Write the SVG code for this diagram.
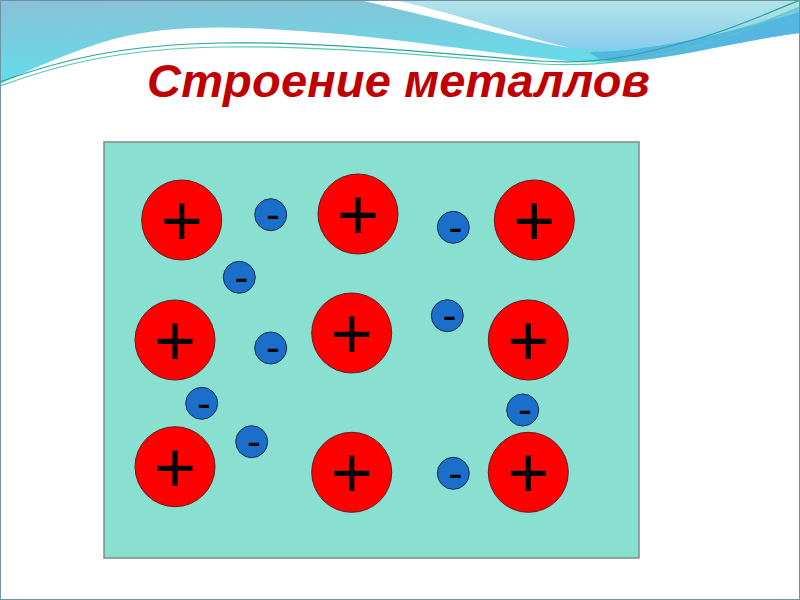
<svg xmlns="http://www.w3.org/2000/svg" width="800" height="600" viewBox="0 0 800 600">
  <defs>
    <linearGradient id="bandGrad" x1="0" y1="0" x2="0.3" y2="1">
      <stop offset="0" stop-color="#8ac0d6"/>
      <stop offset="1" stop-color="#60dfeb"/>
    </linearGradient>
    <linearGradient id="lightGrad" x1="0" y1="0" x2="0" y2="1">
      <stop offset="0" stop-color="#b3e5ea"/>
      <stop offset="1" stop-color="#8acbec"/>
    </linearGradient>
    <style>
      .ion circle { fill: #ff0000; stroke: #6a1a1a; stroke-width: 1; }
      .ion text { font-family: "Liberation Sans", Arial, sans-serif; font-size: 72px; fill: #000; text-anchor: middle; }
      .el circle { fill: #1a6fcb; stroke: #1a2a4a; stroke-width: 1; }
      .el text { font-family: "Liberation Sans", Arial, sans-serif; font-size: 42px; fill: #000; text-anchor: middle; }
      .wave { fill: none; stroke-width: 1.2; }
    </style>
  </defs>

  <!-- background -->
  <rect x="0" y="0" width="800" height="600" fill="#ffffff"/>
  <path d="M0,0 H800 V33 C730,42 680,58 620,62 C590,64 570,61 540,58 C450,48 380,36 300,31 C230,26 160,24 100,43 C60,56 30,70 0,84 Z" fill="url(#bandGrad)"/>
  <path d="M590,52 C650,52 720,35 800,12 V33 C730,42 680,58 620,62 C605,62 595,58 590,52 Z" fill="#55b6e2"/>
  <path d="M395,0 H800 V8 C740,30 680,46 620,49 C600,50 585,49 570,48 C500,30 450,12 395,0 Z" fill="url(#lightGrad)"/>
  <path d="M360,0 H395 C450,12 500,30 570,48 C500,36 430,16 360,0 Z" fill="#ffffff"/>
  <path class="wave" stroke="#2aa59c" d="M0,82 C60,60 120,45 220,43 C330,41 450,55 540,61 C600,65 640,55 700,38 C740,26 770,12 800,0"/>
  <path class="wave" stroke="#55c9b4" d="M0,86 C60,64 120,49 220,47 C330,45 450,58 540,64 C600,67 645,60 705,44 C745,32 772,18 800,7"/>
  <rect x="0.5" y="0.5" width="799" height="599" fill="none" stroke="#6f93a3" stroke-width="1"/>

  <!-- title -->
  <text x="147" y="97" textLength="503" lengthAdjust="spacing" font-family="'Liberation Sans', Arial, sans-serif" font-size="47" font-weight="bold" font-style="italic" fill="#c00000">Строение металлов</text>

  <!-- lattice box -->
  <rect id="lattice" x="104" y="142" width="535" height="416" fill="#89e0d1" stroke="#7d8c8a" stroke-width="1.5"/>

  <!-- positive ions -->
  <g id="ion1" class="ion"><circle cx="181.7" cy="220" r="40"/><text x="181.7" y="245">+</text></g>
  <g id="ion2" class="ion"><circle cx="358" cy="214" r="40"/><text x="358" y="239">+</text></g>
  <g id="ion3" class="ion"><circle cx="534.3" cy="220" r="40"/><text x="534.3" y="245">+</text></g>
  <g id="ion4" class="ion"><circle cx="175" cy="340" r="40"/><text x="175" y="365">+</text></g>
  <g id="ion5" class="ion"><circle cx="351.7" cy="333" r="40"/><text x="351.7" y="358">+</text></g>
  <g id="ion6" class="ion"><circle cx="528.3" cy="340" r="40"/><text x="528.3" y="365">+</text></g>
  <g id="ion7" class="ion"><circle cx="175" cy="466.7" r="40"/><text x="175" y="491.7">+</text></g>
  <g id="ion8" class="ion"><circle cx="351.7" cy="472.3" r="40"/><text x="351.7" y="497.3">+</text></g>
  <g id="ion9" class="ion"><circle cx="528.3" cy="472.3" r="40"/><text x="528.3" y="497.3">+</text></g>

  <!-- electrons -->
  <g id="el1" class="el"><circle cx="270.7" cy="214.7" r="16"/><text x="273" y="229">-</text></g>
  <g id="el2" class="el"><circle cx="239.3" cy="277.3" r="16"/><text x="241.5" y="291.6">-</text></g>
  <g id="el3" class="el"><circle cx="453.3" cy="227.3" r="16"/><text x="455.5" y="241.6">-</text></g>
  <g id="el4" class="el"><circle cx="447.3" cy="315.7" r="16"/><text x="449.5" y="330">-</text></g>
  <g id="el5" class="el"><circle cx="270.7" cy="348" r="16"/><text x="273" y="362.3">-</text></g>
  <g id="el6" class="el"><circle cx="201.7" cy="403.3" r="16"/><text x="204" y="417.6">-</text></g>
  <g id="el7" class="el"><circle cx="251.7" cy="441.7" r="16"/><text x="254" y="456">-</text></g>
  <g id="el8" class="el"><circle cx="522.7" cy="410" r="16"/><text x="525" y="424.3">-</text></g>
  <g id="el9" class="el"><circle cx="453.3" cy="473.3" r="16"/><text x="455.5" y="487.6">-</text></g>

  <g id="connectors"/>
</svg>
